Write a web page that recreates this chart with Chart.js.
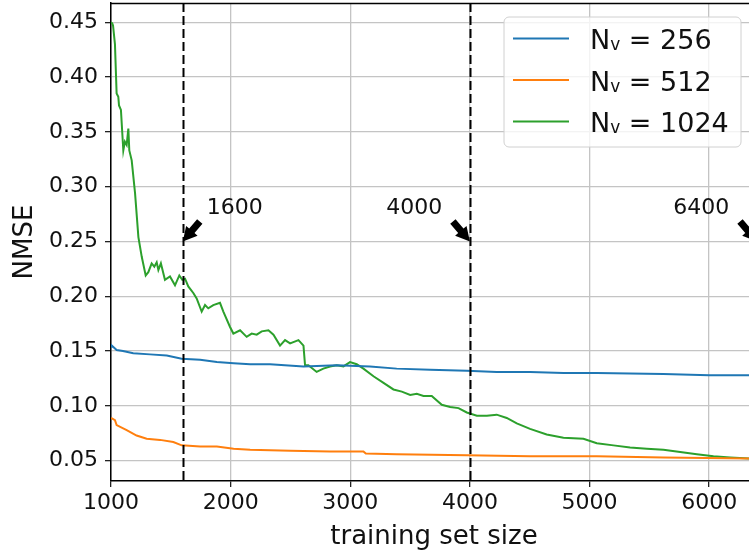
<!DOCTYPE html>
<html>
<head>
<meta charset="utf-8">
<script src="https://cdn.jsdelivr.net/npm/chart.js@4.4.0/dist/chart.umd.min.js"></script>
<style>
  html, body { margin: 0; padding: 0; background: #fff; overflow: hidden; }
  #wrap { position: absolute; left: 0; top: 0; width: 760px; height: 553px; }
</style>
</head>
<body>
<div id="wrap"><canvas id="c" width="760" height="553"></canvas></div>
<script>
// ---- data ----
const seriesLabels = ['256', '512', '1024'];
const xTicks = [1000, 2000, 3000, 4000, 5000, 6000];
const yTicks = [0.05, 0.10, 0.15, 0.20, 0.25, 0.30, 0.35, 0.40, 0.45];

const blueX = [1000, 1006, 1047, 1100, 1186, 1326, 1466, 1591, 1745, 1885, 2025, 2163, 2329, 2609, 2887, 3165, 3388, 3667, 3974, 4224, 4503, 4782, 5061, 5618, 6000, 6400];
const blueY = [0.154, 0.155, 0.151, 0.150, 0.148, 0.147, 0.146, 0.143, 0.142, 0.140, 0.139, 0.138, 0.138, 0.136, 0.137, 0.136, 0.134, 0.133, 0.132, 0.131, 0.131, 0.130, 0.130, 0.129, 0.128, 0.128];

const orangeX = [1000, 1033, 1047, 1131, 1214, 1298, 1410, 1521, 1591, 1745, 1885, 2025, 2163, 2500, 2831, 3110, 3130, 3388, 3974, 4503, 5061, 5618, 6334, 6400];
const orangeY = [0.089, 0.087, 0.0825, 0.078, 0.073, 0.070, 0.069, 0.067, 0.064, 0.063, 0.063, 0.061, 0.060, 0.059, 0.0585, 0.0585, 0.0565, 0.056, 0.055, 0.054, 0.054, 0.053, 0.052, 0.052];

const greenX = [1000, 1010, 1017, 1033, 1047, 1061, 1067, 1083, 1103, 1116, 1131, 1145, 1153, 1173, 1201, 1229, 1257, 1290, 1312, 1340, 1362, 1382, 1396, 1417, 1451, 1493, 1535, 1571, 1596, 1619, 1646, 1688, 1716, 1758, 1786, 1813, 1855, 1911, 1939, 1995, 2023, 2079, 2134, 2176, 2218, 2260, 2316, 2358, 2413, 2455, 2497, 2567, 2609, 2622, 2650, 2719, 2775, 2831, 2887, 2943, 2998, 3054, 3110, 3194, 3278, 3361, 3431, 3501, 3556, 3612, 3681, 3765, 3835, 3905, 3974, 4058, 4142, 4224, 4308, 4392, 4503, 4642, 4782, 4949, 5061, 5200, 5339, 5479, 5618, 5758, 5897, 6036, 6175, 6334, 6400];
const greenY = [0.450, 0.449, 0.447, 0.430, 0.385, 0.382, 0.374, 0.370, 0.333, 0.341, 0.338, 0.353, 0.333, 0.324, 0.294, 0.254, 0.236, 0.219, 0.222, 0.230, 0.227, 0.231, 0.224, 0.230, 0.215, 0.218, 0.210, 0.219, 0.215, 0.216, 0.209, 0.203, 0.198, 0.186, 0.192, 0.189, 0.192, 0.194, 0.186, 0.172, 0.166, 0.169, 0.163, 0.166, 0.165, 0.168, 0.169, 0.165, 0.155, 0.160, 0.157, 0.160, 0.155, 0.137, 0.137, 0.131, 0.134, 0.136, 0.137, 0.136, 0.140, 0.138, 0.134, 0.127, 0.121, 0.115, 0.113, 0.110, 0.111, 0.109, 0.109, 0.101, 0.099, 0.098, 0.094, 0.091, 0.091, 0.092, 0.089, 0.084, 0.079, 0.074, 0.071, 0.070, 0.066, 0.064, 0.062, 0.061, 0.060, 0.058, 0.056, 0.054, 0.053, 0.052, 0.051];

const dashedXs = [1600, 4000];
const markerXs = [1600, 4000, 6400];
const markerTextX = [1800, 3300, 5700];
const markerTipY = 0.25;
const markerTextY = 0.275;

const xMin = 1000, xMax = 6400, yMin = 0.0315, yMax = 0.4675;

// ---- build ----
const colors = ['#1f77b4', '#ff7f0e', '#2ca02c'];
const toPts = (xs, ys) => xs.map((x, i) => ({ x: x, y: ys[i] }));
const datasets = [toPts(blueX, blueY), toPts(orangeX, orangeY), toPts(greenX, greenY)].map((d, i) => ({
  label: seriesLabels[i],
  data: d,
  borderColor: colors[i],
  backgroundColor: colors[i],
  borderWidth: 2,
  pointRadius: 0,
  tension: 0,
  fill: false
}));

const FONT = 'DejaVu Sans';

const annot = {
  id: 'annot',
  afterDatasetsDraw(chart) {
    const ctx = chart.ctx, xs = chart.scales.x, ys = chart.scales.y, a = chart.chartArea;
    ctx.save();
    ctx.beginPath(); ctx.rect(a.left, a.top, a.right - a.left, a.bottom - a.top); ctx.clip();
    ctx.strokeStyle = '#000'; ctx.lineWidth = 2; ctx.setLineDash([9, 4]);
    dashedXs.forEach(v => {
      const px = Math.round(xs.getPixelForValue(v)) + 0.5;
      ctx.beginPath(); ctx.moveTo(px, a.top); ctx.lineTo(px, a.bottom); ctx.stroke();
    });
    ctx.setLineDash([]);
    ctx.restore();
    ctx.save();
    markerXs.forEach((v, i) => {
      const tx = xs.getPixelForValue(v), ty = ys.getPixelForValue(markerTipY);
      const lx = xs.getPixelForValue(markerTextX[i]), ly = ys.getPixelForValue(markerTextY);
      const side = markerTextX[i] > v ? 1 : -1;
      const bx = tx + side * 17, by = ty - 20;
      const dx = tx - bx, dy = ty - by, L = Math.hypot(dx, dy);
      const ux = dx / L, uy = dy / L, nx = -uy, ny = ux;
      const hl = 14, hw = 7.5, sw = 3.5;
      const hbx = tx - ux * hl, hby = ty - uy * hl;
      ctx.fillStyle = '#000';
      ctx.beginPath();
      ctx.moveTo(tx, ty);
      ctx.lineTo(hbx + nx * hw, hby + ny * hw);
      ctx.lineTo(hbx + nx * sw, hby + ny * sw);
      ctx.lineTo(bx + nx * sw, by + ny * sw);
      ctx.lineTo(bx - nx * sw, by - ny * sw);
      ctx.lineTo(hbx - nx * sw, hby - ny * sw);
      ctx.lineTo(hbx - nx * hw, hby - ny * hw);
      ctx.closePath();
      ctx.fill();
      ctx.font = '22px "' + FONT + '"';
      ctx.textAlign = 'left'; ctx.textBaseline = 'alphabetic';
      ctx.fillStyle = '#111';
      ctx.fillText(String(v), lx, ly);
    });
    ctx.restore();
  },
  afterDraw(chart) {
    const ctx = chart.ctx, a = chart.chartArea;
    ctx.save();
    ctx.strokeStyle = '#000'; ctx.lineWidth = 1.5;
    ctx.beginPath(); ctx.moveTo(a.left, a.top + 0.5); ctx.lineTo(a.right, a.top + 0.5); ctx.stroke();
    const bx = a.right - 253, by = a.top + 14, bw = 237, bh = 130, r = 5;
    ctx.fillStyle = 'rgba(255,255,255,0.8)';
    ctx.strokeStyle = '#d0d0d0'; ctx.lineWidth = 1;
    ctx.beginPath();
    ctx.moveTo(bx + r, by);
    ctx.arcTo(bx + bw, by, bx + bw, by + bh, r);
    ctx.arcTo(bx + bw, by + bh, bx, by + bh, r);
    ctx.arcTo(bx, by + bh, bx, by, r);
    ctx.arcTo(bx, by, bx + bw, by, r);
    ctx.closePath();
    ctx.fill(); ctx.stroke();
    chart.data.datasets.forEach((ds, i) => {
      const ry = by + 21.5 + i * 41.5;
      ctx.strokeStyle = ds.borderColor; ctx.lineWidth = 2;
      ctx.beginPath(); ctx.moveTo(bx + 9, ry); ctx.lineTo(bx + 65, ry); ctx.stroke();
      ctx.fillStyle = '#111'; ctx.textBaseline = 'alphabetic'; ctx.textAlign = 'left';
      let x = bx + 86; const base = ry + 10.5;
      ctx.font = '27px "' + FONT + '"';
      ctx.fillText('N', x, base); x += ctx.measureText('N').width;
      ctx.font = '17px "' + FONT + '"';
      ctx.fillText('v', x, base + 1); x += ctx.measureText('v').width;
      ctx.font = '27px "' + FONT + '"';
      ctx.fillText(' = ' + ds.label, x, base);
    });
    ctx.restore();
  }
};

new Chart(document.getElementById('c'), {
  type: 'line',
  data: { datasets: datasets },
  options: {
    responsive: false,
    animation: false,
    devicePixelRatio: 1,
    layout: { padding: { top: 3, right: 3, left: 0, bottom: 0 } },
    plugins: { legend: { display: false }, tooltip: { enabled: false } },
    scales: {
      x: {
        type: 'linear', min: xMin, max: xMax,
        afterBuildTicks: s => { s.ticks = xTicks.map(v => ({ value: v })); },
        afterFit: s => { s.height = 72; s.paddingLeft = 0; s.paddingRight = 0; },
        grid: { color: '#c4c4c4', lineWidth: 1.3, tickLength: 6, tickColor: '#222', tickWidth: 1.3 },
        border: { display: true, color: '#000', width: 1.5 },
        ticks: { color: '#111', font: { family: FONT, size: 22 }, padding: 3, maxRotation: 0, autoSkip: false,
          callback: v => String(v) },
        title: { display: true, text: 'training set size', color: '#111', font: { family: FONT, size: 26 }, padding: { top: 0, bottom: 0 } }
      },
      y: {
        type: 'linear', min: yMin, max: yMax,
        afterBuildTicks: s => { s.ticks = yTicks.map(v => ({ value: v })); },
        afterFit: s => { s.width = 111; s.paddingTop = 0; s.paddingBottom = 0; },
        grid: { color: '#c4c4c4', lineWidth: 1.3, tickLength: 6, tickColor: '#222', tickWidth: 1.3 },
        border: { display: true, color: '#000', width: 1.5 },
        ticks: { color: '#111', font: { family: FONT, size: 22 }, padding: 7, autoSkip: false,
          callback: v => Number(v).toFixed(2) },
        title: { display: true, text: 'NMSE', color: '#111', font: { family: FONT, size: 26 }, padding: { top: 10, bottom: 0 } }
      }
    }
  },
  plugins: [annot]
});
</script>
</body>
</html>
